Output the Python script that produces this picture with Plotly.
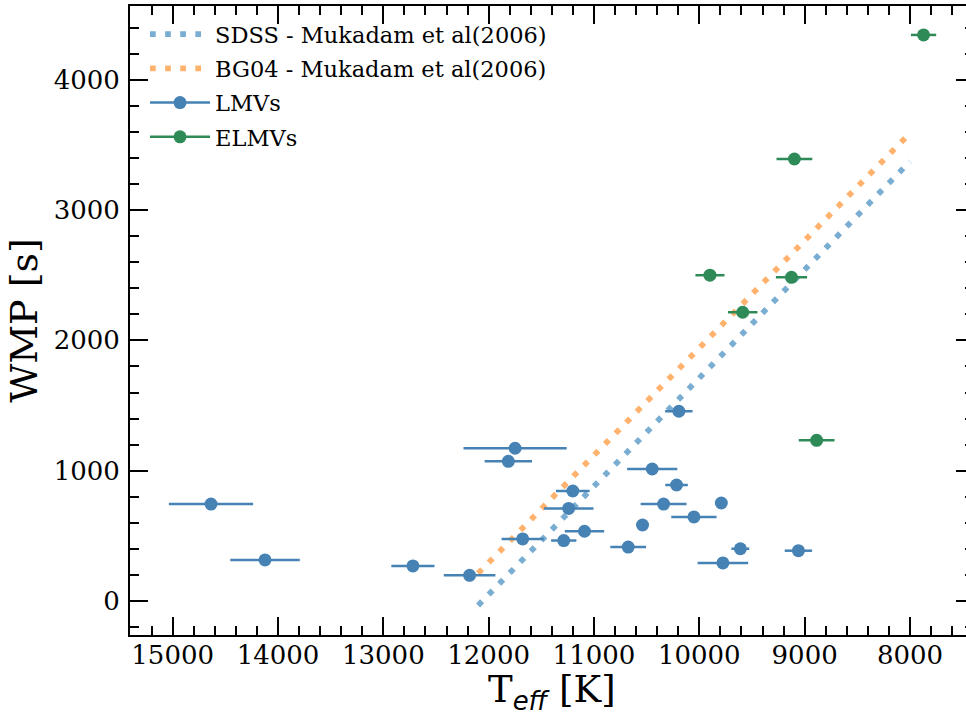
import plotly.graph_objects as go

# Effective temperature [K], weighted mean period [s] and Teff uncertainty [K]
lmv_teff = [14636, 14123, 12719, 12181, 11749, 11813, 11677, 11201, 11240, 11287, 11090,
            10675, 10539, 10447, 10339, 10216, 10194, 10051, 9791, 9776, 9610, 9059]
lmv_wmp = [744, 315, 269, 197, 1172, 1072, 476, 844, 710, 464, 535,
           414, 583, 1013, 744, 890, 1456, 645, 752, 292, 401, 386]
lmv_err = [400, 330, 205, 245, 490, 225, 200, 160, 235, 120, 187,
           170, 0, 238, 218, 107, 130, 215, 0, 240, 85, 130]

elmv_teff = [7871, 9097, 9899, 9125, 9588, 8886]
elmv_wmp = [4344, 3392, 2500, 2484, 2216, 1233]
elmv_err = [120, 170, 138, 148, 140, 170]

# WMP-Teff relations (Mukadam et al. 2006), end points of the fitted range
fit_teff = [12100, 8000]
fit_sdss = [-34, 3373]
fit_bg04 = [212, 3590]

x_ticks = [15000, 14000, 13000, 12000, 11000, 10000, 9000, 8000]
x_ticklabels = ["15000", "14000", "13000", "12000", "11000", "10000", "9000", "8000"]
y_ticks = [0, 1000, 2000, 3000, 4000]
y_ticklabels = ["0", "1000", "2000", "3000", "4000"]

SERIF = "DejaVu Serif"
BLUE = "#4682b4"
GREEN = "#2e8b57"

fig = go.Figure()

fig.add_trace(go.Scatter(
    x=fit_teff, y=fit_sdss, mode="lines", name="SDSS - Mukadam et al(2006)",
    line=dict(color="rgba(31,119,180,0.6)", width=5.7, dash="5.7px,9.4px"),
    legendgroup="a"))
fig.add_trace(go.Scatter(
    x=fit_teff, y=fit_bg04, mode="lines", name="BG04 - Mukadam et al(2006)",
    line=dict(color="rgba(255,127,14,0.6)", width=5.7, dash="5.7px,9.4px"),
    legendgroup="b"))

fig.add_trace(go.Scatter(
    x=lmv_teff, y=lmv_wmp, mode="markers", name="LMVs", showlegend=False,
    marker=dict(color=BLUE, size=13),
    error_x=dict(type="data", array=lmv_err, color=BLUE, thickness=2.5, width=0)))
fig.add_trace(go.Scatter(
    x=elmv_teff, y=elmv_wmp, mode="markers", name="ELMVs", showlegend=False,
    marker=dict(color=GREEN, size=13),
    error_x=dict(type="data", array=elmv_err, color=GREEN, thickness=2.5, width=0)))

# legend entries drawn as errorbar glyphs
fig.add_trace(go.Scatter(
    x=[None], y=[None], mode="lines+markers", name="LMVs", legendgroup="c",
    marker=dict(color=BLUE, size=13), line=dict(color=BLUE, width=2.5)))
fig.add_trace(go.Scatter(
    x=[None], y=[None], mode="lines+markers", name="ELMVs", legendgroup="d",
    marker=dict(color=GREEN, size=13), line=dict(color=GREEN, width=2.5)))

axis_common = dict(
    showgrid=False, zeroline=False, showline=True, linecolor="black", linewidth=2,
    mirror="allticks", ticks="inside", ticklen=18, tickwidth=2, tickcolor="black",
    tickfont=dict(family=SERIF, size=26, color="black"), automargin=False,
)

fig.update_xaxes(
    range=[15405, 7392], tickvals=x_ticks, ticktext=x_ticklabels, ticklabelstandoff=-4,
    minor=dict(dtick=200, ticks="inside", ticklen=9, tickwidth=2, tickcolor="black"),
    **axis_common)
fig.update_yaxes(
    range=[-261, 4566], tickvals=y_ticks, ticktext=y_ticklabels, ticklabelstandoff=3,
    minor=dict(dtick=200, ticks="inside", ticklen=9, tickwidth=2, tickcolor="black"),
    title=dict(text="WMP [s]", font=dict(family=SERIF, size=38, color="black"), standoff=4),
    **axis_common)

# x-axis title placed under the tick labels
fig.add_annotation(
    text="T<sub><span style='font-family:DejaVu Sans;font-style:italic'>eff</span></sub> [K]",
    xref="paper", yref="paper", x=0.5, y=0, xanchor="center", yanchor="top",
    yshift=-31, showarrow=False, font=dict(family=SERIF, size=37, color="black"))

fig.update_layout(
    width=990, height=713, autosize=False,
    margin=dict(l=130, r=16, t=6, b=78),
    plot_bgcolor="white", paper_bgcolor="white",
    font=dict(family=SERIF, color="black"),
    legend=dict(x=0.0178, y=0.989, xanchor="left", yanchor="top",
                font=dict(family=SERIF, size=22.5, color="black"),
                itemwidth=60, bgcolor="rgba(0,0,0,0)", tracegroupgap=2),
)

fig.write_html("out.html",
               post_script="document.documentElement.style.overflow='hidden';"
                           "document.body.style.overflow='hidden';")
